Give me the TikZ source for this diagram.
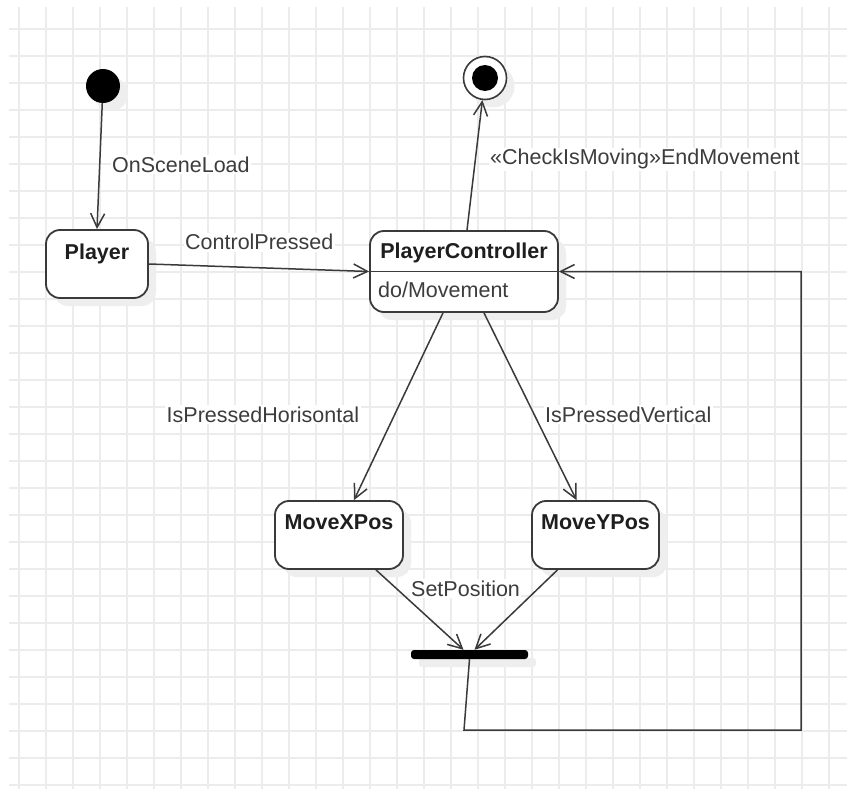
\documentclass[tikz,border=0pt]{standalone}
\usepackage{fontspec}
\setmainfont{Liberation Sans}
\usetikzlibrary{arrows.meta}
\definecolor{gridc}{RGB}{236,236,236}
\definecolor{linec}{RGB}{58,58,58}
\definecolor{textc}{RGB}{60,60,60}
\definecolor{titlec}{RGB}{30,30,30}
\definecolor{shadowc}{RGB}{238,238,238}
\begin{document}
\begin{tikzpicture}[x=1pt,y=-1pt,
  font=\fontsize{21.5}{25}\selectfont,
  shadowed/.style={preaction={draw=none,fill=shadowc,transform canvas={xshift=8pt,yshift=-8pt}}},
  statebox/.style={shadowed,draw=linec,line width=1.8pt,fill=white,rounded corners=14pt,inner sep=0pt},
  title/.style={anchor=base,inner sep=0pt,text=titlec,font=\fontsize{21.5}{25}\selectfont\bfseries},
  lbl/.style={anchor=base west,fill=white,inner sep=1.5pt,text=textc},
  trans/.style={draw=linec,line width=1.5pt,-{Straight Barb[length=14pt,width=14pt]}},
  link/.style={draw=linec,line width=1.5pt}]
\useasboundingbox (0,0) rectangle (847,789);
\fill[white] (0,0) rectangle (847,789);
% background grid
\foreach \gx in {0,...,30} \draw[gridc,line width=1.6pt] (19+27*\gx,7) -- (19+27*\gx,789);
\foreach \gy in {0,...,28} \draw[gridc,line width=1.6pt] (9,29+27*\gy) -- (847,29+27*\gy);

% pseudo states
\node[shadowed,circle,fill=black,minimum size=34pt,inner sep=0pt] (init) at (103,86) {};
\node[shadowed,circle,draw=linec,line width=1.6pt,fill=white,minimum size=43pt,inner sep=0pt] (final) at (485,78) {};
\fill[black] (final.center) circle (13pt);

% states
\node[statebox,minimum width=102pt,minimum height=68pt] (player) at (97,264) {};
\node[title] (playert) at ([yshift=-30pt]player.north) {Player};

\node[statebox,minimum width=188pt,minimum height=81pt] (pc) at (464,271.5) {};
\draw[linec,line width=1.6pt] (pc.west) -- (pc.east);
\node[title] (pct) at ([yshift=-28.5pt]pc.north) {PlayerController};
\node[anchor=base west,inner sep=0pt,text=textc] (pcdo) at (378,298) {do/Movement};

\node[statebox,minimum width=128pt,minimum height=68pt] (mx) at (339,535) {};
\node[title] (mxt) at ([yshift=-29.5pt]mx.north) {MoveXPos};
\node[statebox,minimum width=127pt,minimum height=68pt] (my) at (595.5,535) {};
\node[title] (myt) at ([yshift=-29.5pt]my.north) {MoveYPos};

% join bar
\node[shadowed,fill=black,rounded corners=3pt,minimum width=117pt,minimum height=9pt,inner sep=0pt] (bar) at (469.5,654.5) {};

% transitions
\draw[trans] (init) -- (player.north);
\draw[trans] (player.east) -- (pc.west);
\draw[trans] ([xshift=3pt]pc.north) -- (final);
\draw[trans] ([xshift=-21pt]pc.south) -- ([xshift=15pt]mx.north);
\draw[trans] ([xshift=20pt]pc.south) -- ([xshift=-19pt]my.north);
\draw[trans] ([xshift=37pt]mx.south) -- ([xshift=-6pt]bar.north);
\draw[trans] ([xshift=-38pt]my.south) -- ([xshift=5pt]bar.north);
\coordinate (loopa) at (464,730);
\coordinate (loopb) at (801,730);
\draw[trans] (bar.south) -- (loopa) -- (loopb) |- (pc.east);

% transition labels
\node[lbl] (l1) at (110.5,172.3) {OnSceneLoad};
\node[lbl] (l2) at (183.5,250) {ControlPressed};
\node[lbl] (l3) at (488.5,165) {«CheckIsMoving»EndMovement};
\node[lbl] (l4) at (165,422) {IsPressedHorisontal};
\node[lbl] (l5) at (543.5,422) {IsPressedVertical};
\node[lbl] (l6) at (409.5,596.5) {SetPosition};
\end{tikzpicture}
\end{document}
